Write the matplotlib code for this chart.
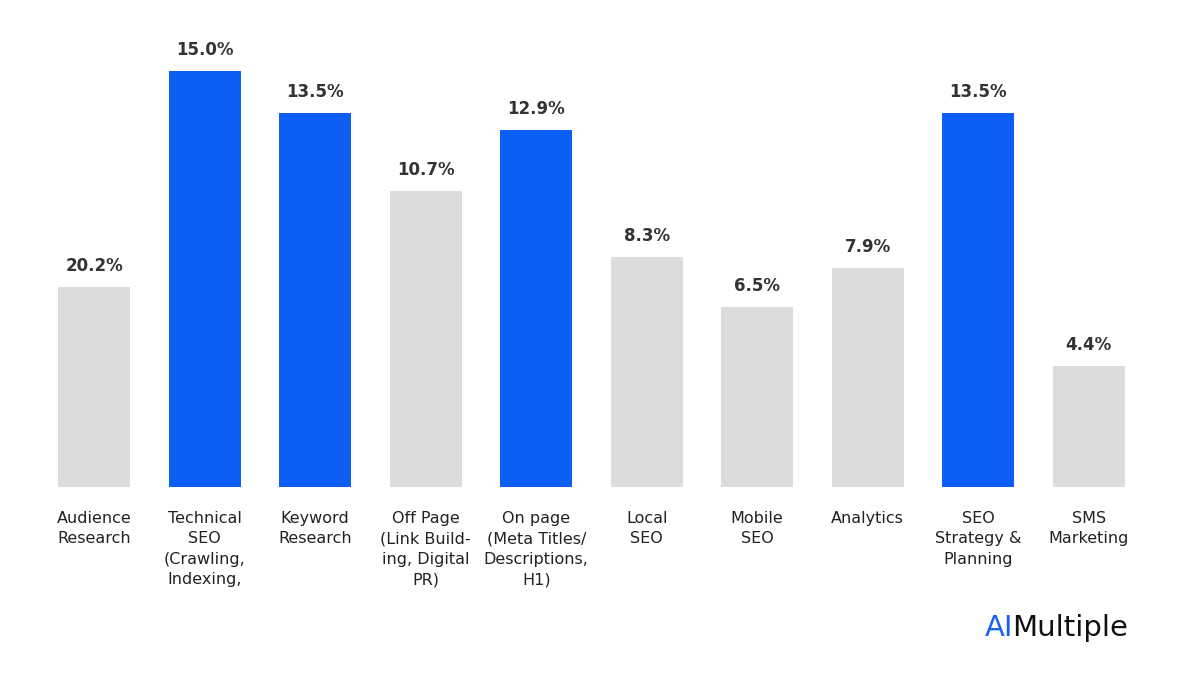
import matplotlib
matplotlib.use("Agg")
import matplotlib.pyplot as plt

categories = ["Audience\nResearch", "Technical\nSEO\n(Crawling,\nIndexing,", "Keyword\nResearch",
              "Off Page\n(Link Build-\ning, Digital\nPR)", "On page\n(Meta Titles/\nDescriptions,\nH1)",
              "Local\nSEO", "Mobile\nSEO", "Analytics", "SEO\nStrategy &\nPlanning", "SMS\nMarketing"]
value_labels = ["20.2%", "15.0%", "13.5%", "10.7%", "12.9%", "8.3%", "6.5%", "7.9%", "13.5%", "4.4%"]
# bar heights as drawn in the reference (relative units)
heights = [200, 416, 374, 296, 357, 230, 180, 219, 374, 121]
highlight = [False, True, True, False, True, False, False, False, True, False]

fig = plt.figure(figsize=(12, 6.75), dpi=100)
ax = fig.add_axes([39/1200, 188/675, 1105/1200, 450/675])
colors = ["#0D5EF5" if h else "#DCDCDC" for h in highlight]
x = list(range(len(categories)))
ax.bar(x, heights, width=0.65, color=colors)
for xi, h, lab in zip(x, heights, value_labels):
    ax.text(xi, h + 12, lab, ha="center", va="bottom", fontsize=12, color="#333333", fontweight="semibold")
for xi, c in zip(x, categories):
    ax.text(xi, -24, c, ha="center", va="top", fontsize=11.5, color="#222222", linespacing=1.45)
ax.set_xlim(-0.5, 9.5)
ax.set_ylim(0, 450)
ax.axis("off")

fig.text(985/1200, 1 - 628/675, "AI", color="#1764F0", fontsize=21, va="center", ha="left")
fig.text(1012/1200, 1 - 628/675, "Multiple", color="#111111", fontsize=21, va="center", ha="left")
fig.savefig("out.png", dpi=100)
